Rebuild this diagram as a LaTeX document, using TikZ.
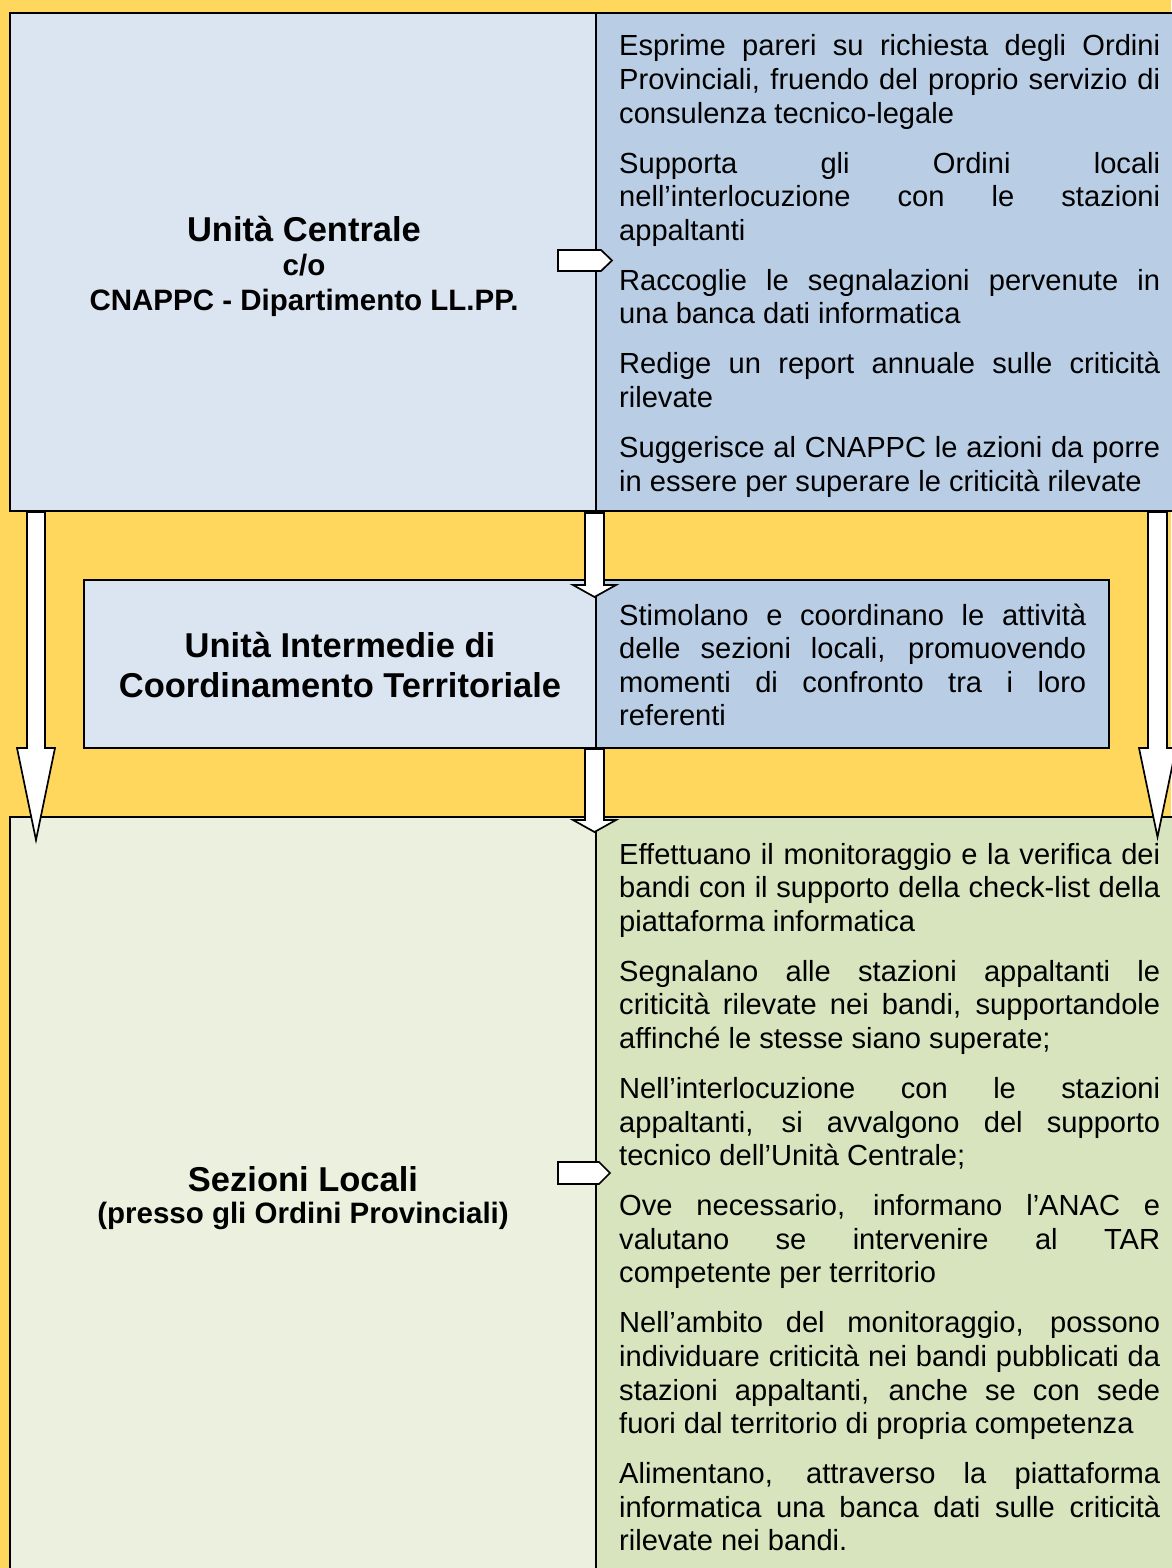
\documentclass[tikz,border=0pt]{standalone}
\usepackage{fontspec}
\setmainfont{Liberation Sans}
\newcommand\JL[1]{\hbox to\hsize{#1}}
\newcommand\LL[1]{\hbox to\hsize{#1\hfil}}
\newcommand\PG{\vskip16.4pt}
\newcommand\bodyfont{\fontsize{29.1pt}{33.6pt}\selectfont}
\hbadness=10000
\definecolor{yel}{HTML}{FFD75C}
\definecolor{lblue}{HTML}{DBE5F1}
\definecolor{dblue}{HTML}{B9CDE5}
\definecolor{lgreen}{HTML}{EBF1DE}
\definecolor{dgreen}{HTML}{D7E4BD}
\begin{document}
\begin{tikzpicture}[x=1pt,y=-1pt,
  half/.style={rectangle, inner sep=0, outer sep=0, anchor=north west, draw=none},
  boxline/.style={draw=black, line width=2pt},
  divider/.style={draw=black, line width=1.2pt},
  blockarrow/.style={fill=white, draw=black, line width=1.7pt, line join=miter},
  title/.style={font=\fontsize{34.5pt}{39.6pt}\selectfont\bfseries, anchor=base, inner sep=0},
  sub/.style={font=\fontsize{29.5pt}{33.6pt}\selectfont\bfseries, anchor=base, inner sep=0},
  coltext/.style={anchor=base west, inner sep=0, font=\bodyfont}]
\useasboundingbox (0,0) rectangle (1171,1568);
\fill[yel] (0,0) rectangle (1171,1568);

% top box
\node[half, fill=lblue, minimum width=586pt, minimum height=498pt] (ucl) at (10,13) {};
\node[half, fill=dblue, minimum width=589pt, minimum height=498pt] (ucr) at (596,13) {};
\draw[boxline] (ucl.north west) rectangle (ucr.south east);
\draw[divider] (ucr.north west) -- (ucr.south west);

% middle box
\node[half, fill=lblue, minimum width=512pt, minimum height=168pt] (uil) at (84,580) {};
\node[half, fill=dblue, minimum width=513pt, minimum height=168pt] (uir) at (596,580) {};
\draw[boxline] (uil.north west) rectangle (uir.south east);
\draw[divider] (uir.north west) -- (uir.south west);

% bottom box
\node[half, fill=lgreen, minimum width=586pt, minimum height=773pt] (sll) at (10,817) {};
\node[half, fill=dgreen, minimum width=589pt, minimum height=773pt] (slr) at (596,817) {};
\draw[boxline] (sll.north west) rectangle (slr.south east);
\draw[divider] (slr.north west) -- (slr.south west);

% block arrows
\draw[blockarrow] (27,512) -- (45,512) -- (45,748) -- (55,748) -- (36,840) -- (17,748) -- (27,748) -- cycle;
\draw[blockarrow] (1148,512) -- (1167,512) -- (1167,748) -- (1176,748) -- (1157.5,837) -- (1139,748) -- (1148,748) -- cycle;
\draw[blockarrow] (585,513) -- (604,513) -- (604,585) -- (616,585) -- (594.5,597) -- (573,585) -- (585,585) -- cycle;
\draw[blockarrow] (585,749) -- (604,749) -- (604,820) -- (616,820) -- (594.5,832) -- (573,820) -- (585,820) -- cycle;
\draw[blockarrow] (558,250) -- (601,250) -- (612,260.5) -- (601,271) -- (558,271) -- cycle;
\draw[blockarrow] (558,1162) -- (599,1162) -- (610,1173) -- (599,1184) -- (558,1184) -- cycle;

% left titles
\node[title] (t1a) at (304,241) {Unità Centrale};
\node[sub] (t1b) at (304,275) {c/o};
\node[sub] (t1c) at (304,310) {CNAPPC - Dipartimento LL.PP.};
\node[title] (t2a) at (340,657) {Unità Intermedie di};
\node[title] (t2b) at (340,697) {Coordinamento Territoriale};
\node[title] (t3a) at (303,1191) {Sezioni Locali};
\node[sub] (t3b) at (303,1223) {(presso gli Ordini Provinciali)};

% right texts
\node[coltext] (x1) at (619,56) {\vtop{\hsize=541pt \bodyfont
\JL{Esprime pareri su richiesta degli Ordini}
\JL{Provinciali, fruendo del proprio servizio di}
\LL{consulenza tecnico-legale}\PG
\JL{Supporta gli Ordini locali}
\JL{nell’interlocuzione con le stazioni}
\LL{appaltanti}\PG
\JL{Raccoglie le segnalazioni pervenute in}
\LL{una banca dati informatica}\PG
\JL{Redige un report annuale sulle criticità}
\LL{rilevate}\PG
\JL{Suggerisce al CNAPPC le azioni da porre}
\LL{in essere per superare le criticità rilevate}}};

\node[coltext] (x2) at (619,625) {\vtop{\hsize=467pt \bodyfont
\JL{Stimolano e coordinano le attività}
\JL{delle sezioni locali, promuovendo}
\JL{momenti di confronto tra i loro}
\LL{referenti}}};

\node[coltext] (x3) at (619,864) {\vtop{\hsize=541pt \bodyfont
\JL{Effettuano il monitoraggio e la verifica dei}
\JL{bandi con il supporto della check-list della}
\LL{piattaforma informatica}\PG
\JL{Segnalano alle stazioni appaltanti le}
\JL{criticità rilevate nei bandi, supportandole}
\LL{affinché le stesse siano superate;}\PG
\JL{Nell’interlocuzione con le stazioni}
\JL{appaltanti, si avvalgono del supporto}
\LL{tecnico dell’Unità Centrale;}\PG
\JL{Ove necessario, informano l’ANAC e}
\JL{valutano se intervenire al TAR}
\LL{competente per territorio}\PG
\JL{Nell’ambito del monitoraggio, possono}
\JL{individuare criticità nei bandi pubblicati da}
\JL{stazioni appaltanti, anche se con sede}
\LL{fuori dal territorio di propria competenza}\PG
\JL{Alimentano, attraverso la piattaforma}
\JL{informatica una banca dati sulle criticità}
\LL{rilevate nei bandi.}}};
\end{tikzpicture}
\end{document}
